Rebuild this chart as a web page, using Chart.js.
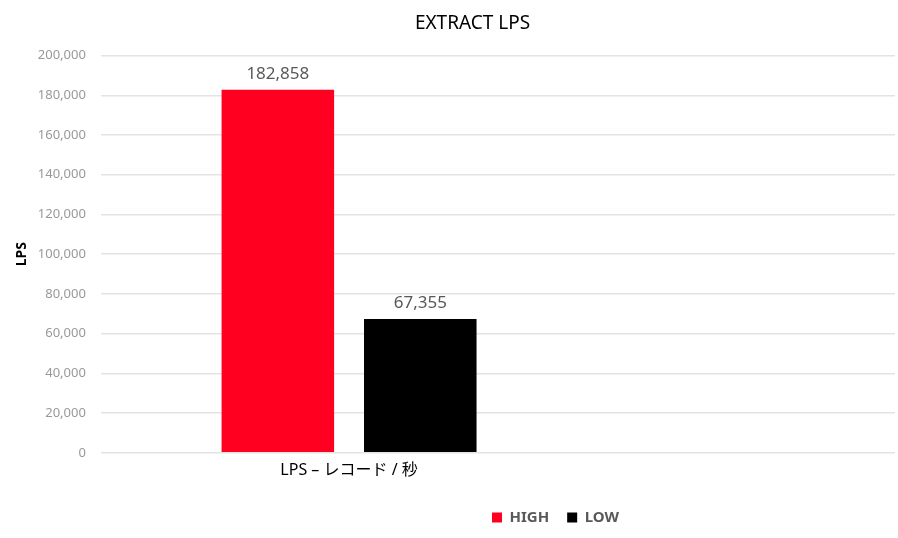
<!DOCTYPE html>
<html>
<head>
<meta charset="utf-8">
<script src="https://cdn.jsdelivr.net/npm/chart.js@4"></script>
<style>
  html, body { margin: 0; padding: 0; background: #ffffff; }
</style>
</head>
<body>
<canvas id="lpsChart" width="898" height="538"></canvas>
<script>
// data
const category = 'LPS – レコード / 秒';
const seriesNames = ['HIGH', 'LOW'];
const highValues = [182858];
const lowValues = [67355];
const yTicks = { min: 0, max: 200000, step: 20000 };

// the plot leaves room on the right: the category sits in slot 3 of 8
const slotCount = 8;
const slotIndex = 2;
const labels = Array.from({ length: slotCount }, (_, i) => i === slotIndex ? category : '');

const fontFamily = "'Noto Sans', 'Noto Sans CJK JP', sans-serif";

const valueLabels = {
    id: 'valueLabels',
    afterDatasetsDraw(chart) {
        const { ctx } = chart;
        ctx.save();
        ctx.font = '17px ' + fontFamily;
        ctx.fillStyle = '#595959';
        ctx.textAlign = 'center';
        ctx.textBaseline = 'bottom';
        chart.data.datasets.forEach((ds, i) => {
            chart.getDatasetMeta(i).data.forEach((bar, j) => {
                const v = ds.data[j].y;
                ctx.fillText(v.toLocaleString('en-US'), bar.x, bar.y - 7);
            });
        });
        ctx.restore();
    }
};

// nudge title and legend to where they sit in the original
const shiftBoxes = {
    id: 'shiftBoxes',
    afterLayout(chart) {
        chart.titleBlock.left += 20;
        chart.titleBlock.right += 20;
        chart.legend.left += 103;
        chart.legend.right += 103;
        chart.legend.top += 12;
        chart.legend.bottom += 12;
    }
};

const config = {
    type: 'bar',
    data: {
        labels: labels,
        datasets: [{
            label: seriesNames[0],
            data: highValues.map(v => ({ x: category, y: v })),
            backgroundColor: '#ff0020'
        }, {
            label: seriesNames[1],
            data: lowValues.map(v => ({ x: category, y: v })),
            backgroundColor: '#000000'
        }]
    },
    options: {
        responsive: false,
        animation: false,
        categoryPercentage: 2.87,
        barPercentage: 0.79,
        layout: { padding: { left: 10, right: 3, top: 0, bottom: 15 } },
        plugins: {
            title: {
                display: true,
                text: 'EXTRACT LPS',
                color: '#000000',
                font: { family: fontFamily, size: 19, weight: 'normal' },
                padding: { top: 12.5, bottom: 20.3 }
            },
            legend: {
                position: 'bottom',
                labels: {
                    color: '#595959',
                    boxWidth: 10,
                    boxHeight: 10,
                    padding: 18,
                    font: { family: fontFamily, size: 15, weight: 'bold' }
                }
            },
            tooltip: { enabled: false }
        },
        scales: {
            x: {
                grid: { display: false },
                border: { display: false },
                ticks: {
                    autoSkip: false,
                    maxRotation: 0,
                    color: '#000000',
                    padding: 0,
                    font: { family: fontFamily, size: 16 }
                }
            },
            y: {
                min: yTicks.min,
                max: yTicks.max,
                grid: { color: '#e3e3e3', lineWidth: 1.5, drawTicks: false },
                border: { display: false },
                ticks: {
                    stepSize: yTicks.step,
                    color: '#999999',
                    padding: 15,
                    font: { family: fontFamily, size: 13 },
                    callback: v => v.toLocaleString('en-US')
                },
                title: {
                    display: true,
                    text: 'LPS',
                    color: '#000000',
                    padding: { top: 4, bottom: -8 },
                    font: { family: fontFamily, size: 14, weight: 'bold' }
                }
            }
        }
    },
    plugins: [valueLabels, shiftBoxes]
};

const myChart = new Chart(document.getElementById('lpsChart'), config);
</script>
</body>
</html>
